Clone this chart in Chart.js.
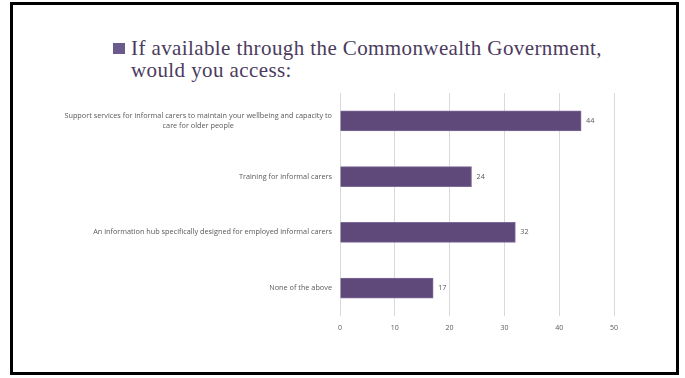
<!DOCTYPE html>
<html>
<head>
<meta charset="utf-8">
<script src="https://cdn.jsdelivr.net/npm/chart.js@4/dist/chart.umd.min.js"></script>
<style>
  html, body { margin: 0; padding: 0; background: #fff; }
  #slide { position: relative; width: 685px; height: 378px; overflow: hidden; }
  #frame {
    position: absolute; left: 10px; top: 2px; width: 663px; height: 367px;
    border: 3px solid #000; box-sizing: content-box;
  }
  #heading {
    position: absolute; left: 131px; top: 37px; width: 540px;
    font-family: "Liberation Serif", "DejaVu Serif", serif;
    font-size: 21px; letter-spacing: 0.4px; line-height: 22px; color: #4B3B5E;
  }
  #bullet {
    position: absolute; left: 113px; top: 43px; width: 12px; height: 11px;
    background: #6B5A8C;
  }
  #chart { position: absolute; left: 0; top: 0; }
</style>
</head>
<body>
<div id="slide">
  <div id="frame"></div>
  <div id="bullet"></div>
  <div id="heading">If available through the Commonwealth Government,<br>would you access:</div>
  <canvas id="chart" width="685" height="378"></canvas>
</div>
<script>
const categories = [
  ['Support services for informal carers to maintain your wellbeing and capacity to', 'care for older people'],
  ['Training for informal carers'],
  ['An information hub specifically designed for employed informal carers'],
  ['None of the above']
];
const responses = [44, 24, 32, 17];
const xTicks = [0, 10, 20, 30, 40, 50];

const labelFont = '7.3px "Open Sans", "DejaVu Sans", sans-serif';
const labelColor = '#595959';

// category labels: block right-aligned to the axis, lines centred in the block
const categoryLabels = {
  id: 'categoryLabels',
  afterDraw(chart) {
    const ctx = chart.ctx;
    const y = chart.scales.y;
    const right = chart.chartArea.left - 8;
    ctx.save();
    ctx.font = labelFont;
    ctx.fillStyle = labelColor;
    ctx.textAlign = 'center';
    ctx.textBaseline = 'middle';
    categories.forEach((lines, i) => {
      const w = Math.max(...lines.map(l => ctx.measureText(l).width));
      const cx = right - w / 2;
      const cy = y.getPixelForValue(i);
      const lh = 10;
      lines.forEach((l, k) => {
        ctx.fillText(l, cx, cy + (k - (lines.length - 1) / 2) * lh);
      });
    });
    ctx.restore();
  }
};

// value labels at the end of each bar
const valueLabels = {
  id: 'valueLabels',
  afterDatasetsDraw(chart) {
    const ctx = chart.ctx;
    const meta = chart.getDatasetMeta(0);
    ctx.save();
    ctx.font = labelFont;
    ctx.fillStyle = labelColor;
    ctx.textAlign = 'left';
    ctx.textBaseline = 'middle';
    meta.data.forEach((bar, i) => {
      ctx.fillText(String(responses[i]), bar.x + 5, bar.y);
    });
    ctx.restore();
  }
};

new Chart(document.getElementById('chart').getContext('2d'), {
  type: 'bar',
  data: {
    labels: categories.map(c => c.join(' ')),
    datasets: [{
      data: responses,
      backgroundColor: '#5F497A',
      borderColor: '#7E6A98',
      borderWidth: 1,
      borderSkipped: 'start',
      barThickness: 20
    }]
  },
  options: {
    indexAxis: 'y',
    responsive: false,
    animation: false,
    layout: { padding: { left: 0, right: 71, top: 93, bottom: 0 } },
    plugins: { legend: { display: false }, tooltip: { enabled: false } },
    scales: {
      x: {
        min: 0,
        max: 50,
        afterBuildTicks(scale) { scale.ticks = xTicks.map(v => ({ value: v })); },
        grid: { color: '#D9D9D9', lineWidth: 1, drawTicks: false },
        border: { display: false },
        ticks: {
          padding: 8,
          color: labelColor,
          font: { family: '"Open Sans", "DejaVu Sans", sans-serif', size: 7 }
        },
        afterFit(scale) { scale.height = 62; }
      },
      y: {
        grid: { display: false },
        border: { display: false },
        ticks: { display: false },
        afterFit(scale) { scale.width = 340; }
      }
    }
  },
  plugins: [categoryLabels, valueLabels]
});
</script>
</body>
</html>
